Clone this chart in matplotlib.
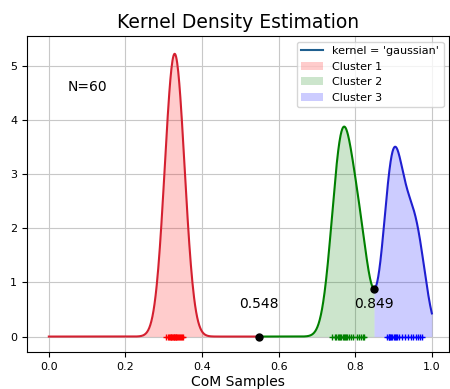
import numpy as np
from matplotlib import pyplot as plt

# CoM samples of the three clusters
cluster1 = [0.306, 0.310, 0.313, 0.316, 0.318, 0.320, 0.322, 0.324, 0.326, 0.327,
            0.329, 0.331, 0.333, 0.335, 0.337, 0.339, 0.342, 0.345, 0.348, 0.351]
cluster2 = [0.740, 0.746, 0.750, 0.754, 0.758, 0.761, 0.764, 0.767, 0.770, 0.773,
            0.776, 0.779, 0.783, 0.788, 0.794, 0.805, 0.810, 0.815, 0.819, 0.824]
cluster3 = [0.884, 0.887, 0.889, 0.891, 0.894, 0.897, 0.900, 0.903, 0.906, 0.910,
            0.915, 0.922, 0.930, 0.938, 0.945, 0.952, 0.958, 0.963, 0.968, 0.974]
splits = [0.548, 0.849]
bandwidth = 0.022
labels = ['Cluster 1', 'Cluster 2', 'Cluster 3']
colors = ['#d42030', 'green', '#1f1fd0']
fills = ['red', 'green', 'blue']

samples = np.array(cluster1 + cluster2 + cluster3)


def kde(x):
    d = (np.asarray(x)[:, None] - samples[None, :]) / bandwidth
    return np.exp(-0.5 * d ** 2).sum(axis=1) / (len(samples) * bandwidth * np.sqrt(2 * np.pi))


fig = plt.figure(figsize=(4.5, 3.89), dpi=100)
ax = fig.add_axes([0.06, 0.095, 0.938, 0.8125])
ax.grid(color='#c8c8c8', linewidth=0.8)
ax.set_axisbelow(True)

ax.plot([], [], color='#1f5f8f', label="kernel = 'gaussian'")

edges = [0.0] + splits + [1.0]
for i, pts in enumerate([cluster1, cluster2, cluster3]):
    xs = np.linspace(edges[i], edges[i + 1], 400)
    ys = kde(xs)
    ax.fill_between(xs, ys, color=fills[i], alpha=0.2, linewidth=0, label=labels[i])
    ax.plot(xs, ys, color=colors[i], linewidth=1.5)
    ax.plot(pts, np.zeros(len(pts)), '+', color=fills[i], markersize=5, markeredgewidth=1)

ax.plot(splits, kde(splits), 'ko', markersize=5, zorder=5)
for s in splits:
    ax.text(s, 0.6, f'{s:.3f}', ha='center', va='center', fontsize=10)

ax.text(0.05, 4.6, 'N=60', ha='left', va='center', fontsize=10)

ax.set_xlim(-0.057, 1.045)
ax.set_ylim(-0.286, 5.55)
ax.set_xticks([0.0, 0.2, 0.4, 0.6, 0.8, 1.0])
ax.tick_params(labelsize=8)
ax.set_xlabel('CoM Samples', fontsize=10, labelpad=2)
ax.set_title('Kernel Density Estimation', fontsize=13.5)
ax.legend(loc='upper right', fontsize=8, framealpha=0.8)

fig.savefig('out.png')
